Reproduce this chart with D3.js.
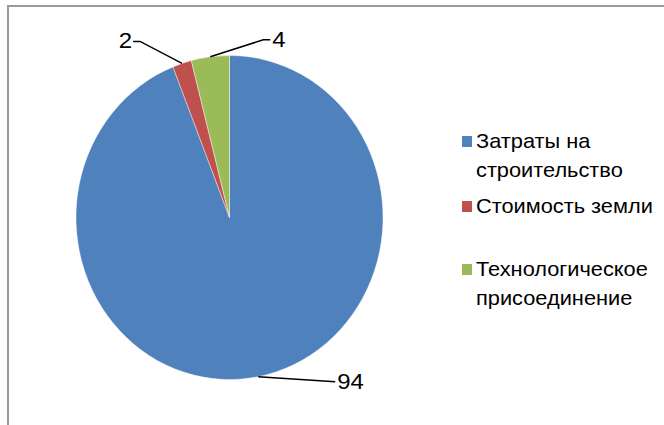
<!DOCTYPE html>
<html>
<head>
<meta charset="utf-8">
<script src="https://cdn.jsdelivr.net/npm/d3@7"></script>
<style>
  html, body { margin: 0; padding: 0; background: #fff; }
  svg { display: block; }
  text { font-family: "Liberation Sans", Arial, sans-serif; fill: #000; }
</style>
</head>
<body>
<svg id="chart" width="664" height="425"></svg>
<script>
// Cost structure, percent
const categories = ["Затраты на строительство", "Стоимость земли", "Технологическое присоединение"];
const legendLines = [["Затраты на", "строительство"], ["Стоимость земли"], ["Технологическое", "присоединение"]];
const values = [94, 2, 4];
const colors = ["#4F81BD", "#C0504D", "#9BBB59"];

const W = 664, H = 425;
const stretch = 1.09; // wide glyph proportions
const svg = d3.select("#chart");

// frame (top and left edges visible)
svg.append("path")
  .attr("d", `M8,${H} L8,6 L${W},6`)
  .attr("fill", "none")
  .attr("stroke", "#9a9a9a")
  .attr("stroke-width", 2);

const cx = 229.5, cy = 217.5, rx = 153.5, ry = 162;
const sy = ry / rx;

const pie = d3.pie().sort(null).value(d => d);
const arcs = pie(values);
const arc = d3.arc().innerRadius(0).outerRadius(rx);
const edge = d3.arc().innerRadius(rx).outerRadius(rx);

const g = svg.append("g").attr("transform", `translate(${cx},${cy}) scale(1,${sy})`);
g.selectAll("path.slice")
  .data(arcs)
  .join("path")
  .attr("class", "slice")
  .attr("d", arc)
  .attr("fill", (d, i) => colors[i])
  .attr("stroke", "#fff")
  .attr("stroke-width", 0.4);

function stretchedText(sel, x, y, size, anchor, str) {
  return sel.append("text")
    .attr("transform", `translate(${x},${y}) scale(${stretch},1)`)
    .attr("text-anchor", anchor)
    .attr("font-size", size)
    .text(str);
}

// data labels with leader lines
const labelLayout = [
  { dx: 77, dy: 5, ex: 0, anchor: "start", tx: 2 },   // 94
  { dx: -42, dy: -22, ex: -7, anchor: "end", tx: -1 }, // 2
  { dx: 53, dy: -17, ex: 7, anchor: "start", tx: 2 }  // 4
];
arcs.forEach((d, i) => {
  const c = edge.centroid(d);
  const p0 = [cx + c[0], cy + c[1] * sy];
  const L = labelLayout[i];
  const p1 = [p0[0] + L.dx, p0[1] + L.dy];
  const p2 = [p1[0] + L.ex, p1[1]];
  svg.append("path")
    .attr("d", d3.line()([p0, p1, p2]))
    .attr("fill", "none")
    .attr("stroke", "#000")
    .attr("stroke-width", 1.5);
  stretchedText(svg, p2[0] + L.tx, p2[1] + 7, 22, L.anchor, values[i]);
});

// legend
const legendX = 462;
const legendBaselines = [[148, 177], [213], [276, 305]];
legendLines.forEach((lines, i) => {
  const lg = svg.append("g");
  lg.append("rect")
    .attr("x", legendX)
    .attr("y", legendBaselines[i][0] - 12)
    .attr("width", 10)
    .attr("height", 11)
    .attr("fill", colors[i]);
  lines.forEach((t, j) => {
    stretchedText(lg, legendX + 14, legendBaselines[i][j], 20, "start", t);
  });
});
</script>
</body>
</html>
